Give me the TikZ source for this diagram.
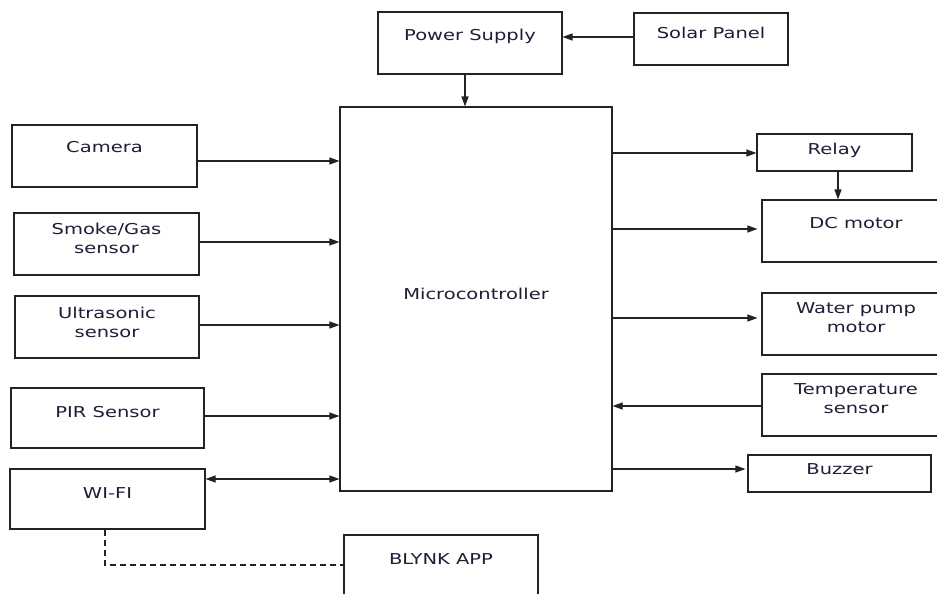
\documentclass[tikz,border=0pt]{standalone}
\usepackage{fontspec}
\setmainfont{DejaVu Sans}[FakeStretch=1.3]
\usepackage{xcolor}
\usetikzlibrary{arrows.meta,positioning}
\definecolor{inkline}{RGB}{35,35,35}
\definecolor{inktext}{RGB}{30,30,55}
\tikzset{
  >={Triangle[length=10pt,width=7pt]},
  blk/.style={draw=inkline, line width=1.1pt, inner sep=0pt},
  boxsize/.style 2 args={minimum width=#1, minimum height=#2},
  lbl/.style={anchor=north, inner sep=0pt, align=center, text=inktext, yshift=-#1},
  flow/.style={->, draw=inkline, line width=1.1pt},
  link/.style={draw=inkline, line width=1.1pt, dash pattern=on 6pt off 4pt},
}

\begin{document}
\begin{tikzpicture}[x=1pt, y=-1pt, every node/.style={font=\fontsize{15}{19}\selectfont}]
  \useasboundingbox (0,0) rectangle (937,594);
  \fill[white] (0,0) rectangle (937,594);
  \clip (0,0) rectangle (937,594);

  % top row
  \node[blk, boxsize={184pt}{62pt}, label={[lbl=17pt]north:Power Supply}] (power) at (470,43) {};
  \node[blk, boxsize={154pt}{52pt}, label={[lbl=14pt]north:Solar Panel}] (solar) at (711,39) {};
  \node[blk, boxsize={272pt}{384pt}, label={[lbl=181pt]north:Microcontroller}] (micro) at (476,299) {};

  % inputs
  \node[blk, boxsize={185pt}{62pt}, label={[lbl=17pt]north:Camera}] (camera) at (104.5,156) {};
  \node[blk, boxsize={185pt}{62pt}, label={[lbl=10pt]north:Smoke/Gas\\sensor}] (smoke) at (106.5,244) {};
  \node[blk, boxsize={184pt}{62pt}, label={[lbl=11pt]north:Ultrasonic\\sensor}] (ultra) at (107,327) {};
  \node[blk, boxsize={193pt}{60pt}, label={[lbl=19pt]north:PIR Sensor}] (pir) at (107.5,418) {};
  \node[blk, boxsize={195pt}{60pt}, label={[lbl=19pt]north:WI-FI}] (wifi) at (107.5,499) {};
  \node[blk, boxsize={194pt}{70pt}, label={[lbl=19pt]north:BLYNK APP}] (blynk) at (441,570) {};

  % outputs
  \node[blk, boxsize={155pt}{37pt}, label={[lbl=9pt]north:Relay}] (relay) at (834.5,152.5) {};
  \node[blk, boxsize={188pt}{62pt}, label={[lbl=18pt]north:DC motor}] (dcmotor) at (856,231) {};
  \node[blk, boxsize={188pt}{62pt}, label={[lbl=10pt]north:Water pump\\motor}] (pump) at (856,324) {};
  \node[blk, boxsize={188pt}{62pt}, label={[lbl=10pt]north:Temperature\\sensor}] (temp) at (856,405) {};
  \node[blk, boxsize={183pt}{37pt}, label={[lbl=9pt]north:Buzzer}] (buzzer) at (839.5,473.5) {};

  % power path
  \draw[flow] ([yshift=2pt]solar.west) -- ([yshift=2pt]solar.west -| power.east);
  \draw[flow] ([xshift=-5pt]power.south) -- ([xshift=-5pt]power.south |- micro.north);

  % sensors to controller
  \draw[flow] ([yshift=-5pt]camera.east) -- ([yshift=-5pt]camera.east -| micro.west);
  \draw[flow] ([yshift=2pt]smoke.east) -- ([yshift=2pt]smoke.east -| micro.west);
  \draw[flow] ([yshift=2pt]ultra.east) -- ([yshift=2pt]ultra.east -| micro.west);
  \draw[flow] ([yshift=2pt]pir.east) -- ([yshift=2pt]pir.east -| micro.west);
  \draw[flow, <->] ([yshift=20pt]wifi.east) -- ([yshift=20pt]wifi.east -| micro.west);

  % controller to actuators
  \draw[flow, <-] ([yshift=-0.5pt]relay.west) -- ([yshift=-0.5pt]relay.west -| micro.east);
  \draw[flow] ([xshift=3.5pt]relay.south) -- ([xshift=3.5pt]relay.south |- dcmotor.north);
  \draw[flow, <-, shorten <=4pt] ([yshift=2pt]dcmotor.west) -- ([yshift=2pt]dcmotor.west -| micro.east);
  \draw[flow, <-, shorten <=4pt] ([yshift=6pt]pump.west) -- ([yshift=6pt]pump.west -| micro.east);
  \draw[flow] ([yshift=-1pt]temp.west) -- ([yshift=-1pt]temp.west -| micro.east);
  \draw[flow, <-, shorten <=2pt] ([yshift=4.5pt]buzzer.west) -- ([yshift=4.5pt]buzzer.west -| micro.east);

  % app link
  \draw[link] ([xshift=-2.5pt]wifi.south) |- ([yshift=5pt]blynk.west);
\end{tikzpicture}
\end{document}
